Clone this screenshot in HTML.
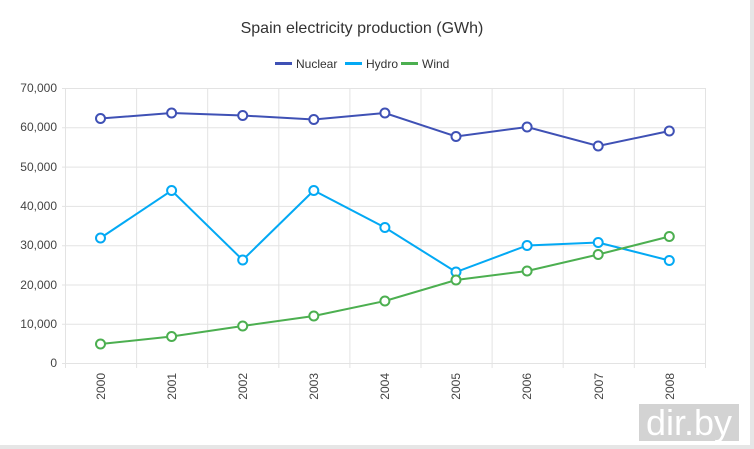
<!DOCTYPE html>
<html><head><meta charset="utf-8"><style>
html,body{margin:0;padding:0;background:#fff;width:754px;height:449px;overflow:hidden}
text{font-family:"Liberation Sans",Arial,sans-serif}
</style></head><body>
<svg width="754" height="449" xmlns="http://www.w3.org/2000/svg">
<rect x="750" y="0" width="4" height="449" fill="#e6e6e6"/>
<rect x="0" y="445" width="754" height="4" fill="#e6e6e6"/>
<text x="362" y="33" text-anchor="middle" font-size="16" fill="#333">Spain electricity production (GWh)</text>
<g font-size="12" fill="#333">
<rect x="275" y="62" width="17" height="3" fill="#3f51b5"/><text x="296" y="68">Nuclear</text>
<rect x="345" y="62" width="17" height="3" fill="#03a9f4"/><text x="366" y="68">Hydro</text>
<rect x="401" y="62" width="17" height="3" fill="#4caf50"/><text x="422" y="68">Wind</text>
</g>
<g stroke="#e3e3e3" stroke-width="1" fill="none">
<path d="M62 88.5H705M62 127.8H705M62 167.1H705M62 206.4H705M62 245.7H705M62 285H705M62 324.3H705M62 363.5H705"/>
<path d="M65.5 88V368M136.6 88V368M207.7 88V368M278.8 88V368M349.9 88V368M421 88V368M492.1 88V368M563.2 88V368M634.3 88V368M705.5 88V368"/>
</g>
<g font-size="12" fill="#444" text-anchor="end">
<text x="57" y="92">70,000</text><text x="57" y="131">60,000</text><text x="57" y="171">50,000</text><text x="57" y="210">40,000</text><text x="57" y="249">30,000</text><text x="57" y="289">20,000</text><text x="57" y="328">10,000</text><text x="57" y="367">0</text>
</g>
<g font-size="12" fill="#444" text-anchor="end">
<text transform="translate(105,373) rotate(-90)">2000</text>
<text transform="translate(176,373) rotate(-90)">2001</text>
<text transform="translate(247,373) rotate(-90)">2002</text>
<text transform="translate(318,373) rotate(-90)">2003</text>
<text transform="translate(389,373) rotate(-90)">2004</text>
<text transform="translate(460,373) rotate(-90)">2005</text>
<text transform="translate(531,373) rotate(-90)">2006</text>
<text transform="translate(603,373) rotate(-90)">2007</text>
<text transform="translate(674,373) rotate(-90)">2008</text>
</g>
<g fill="#fff" stroke-width="2">
<polyline fill="none" stroke="#3f51b5" points="100.5,118.5 171.6,113 242.7,115.5 313.8,119.5 384.9,113 456,136.5 527.1,127 598.2,146 669.3,131"/>
<g stroke="#3f51b5"><circle cx="100.5" cy="118.5" r="4.5"/><circle cx="171.6" cy="113" r="4.5"/><circle cx="242.7" cy="115.5" r="4.5"/><circle cx="313.8" cy="119.5" r="4.5"/><circle cx="384.9" cy="113" r="4.5"/><circle cx="456" cy="136.5" r="4.5"/><circle cx="527.1" cy="127" r="4.5"/><circle cx="598.2" cy="146" r="4.5"/><circle cx="669.3" cy="131" r="4.5"/></g>
<polyline fill="none" stroke="#03a9f4" points="100.5,238 171.6,190.5 242.7,260 313.8,190.5 384.9,227.5 456,272 527.1,245.5 598.2,242.5 669.3,260.5"/>
<g stroke="#03a9f4"><circle cx="100.5" cy="238" r="4.5"/><circle cx="171.6" cy="190.5" r="4.5"/><circle cx="242.7" cy="260" r="4.5"/><circle cx="313.8" cy="190.5" r="4.5"/><circle cx="384.9" cy="227.5" r="4.5"/><circle cx="456" cy="272" r="4.5"/><circle cx="527.1" cy="245.5" r="4.5"/><circle cx="598.2" cy="242.5" r="4.5"/><circle cx="669.3" cy="260.5" r="4.5"/></g>
<polyline fill="none" stroke="#4caf50" points="100.5,344 171.6,336.5 242.7,326 313.8,316 384.9,301 456,280 527.1,271 598.2,254.5 669.3,236.5"/>
<g stroke="#4caf50"><circle cx="100.5" cy="344" r="4.5"/><circle cx="171.6" cy="336.5" r="4.5"/><circle cx="242.7" cy="326" r="4.5"/><circle cx="313.8" cy="316" r="4.5"/><circle cx="384.9" cy="301" r="4.5"/><circle cx="456" cy="280" r="4.5"/><circle cx="527.1" cy="271" r="4.5"/><circle cx="598.2" cy="254.5" r="4.5"/><circle cx="669.3" cy="236.5" r="4.5"/></g>
</g>
<rect x="639" y="404" width="100" height="37" fill="#d3d3d3"/>
<text x="689" y="435" text-anchor="middle" font-size="36" fill="#fff">dir.by</text>
</svg>
</body></html>
